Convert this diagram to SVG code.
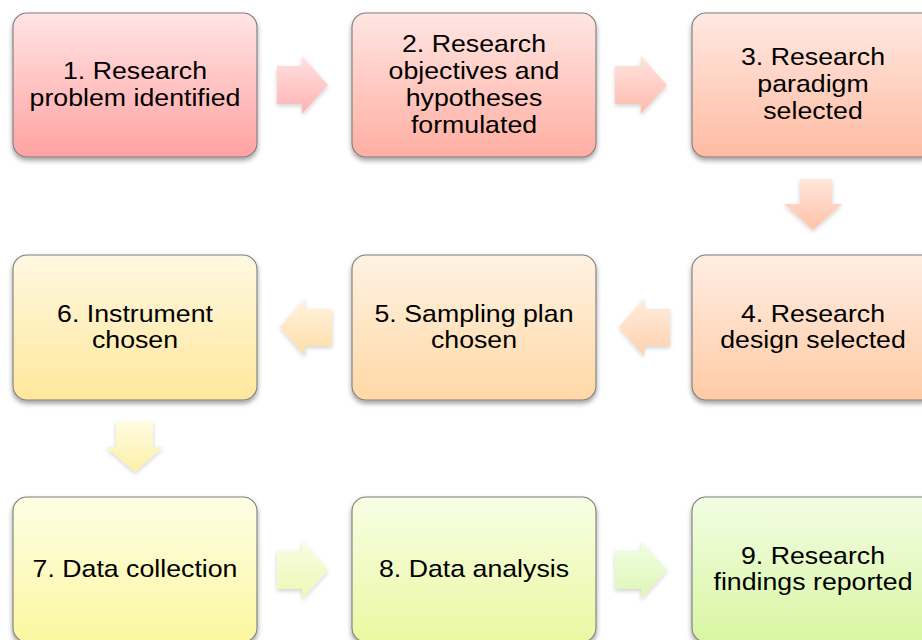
<svg xmlns="http://www.w3.org/2000/svg" width="922" height="640" viewBox="0 0 922 640">
  <defs>
    <style>
      .box { stroke: #7d7d7d; stroke-width: 1.1; filter: url(#boxShadow); }
      .arrow { filter: url(#arrowShadow); }
      .label { font-family: "Liberation Sans", Arial, Helvetica, sans-serif; font-size: 24.4px; fill: #000; text-anchor: middle; }
    </style>
    <filter id="boxShadow" x="-10%" y="-10%" width="120%" height="125%">
      <feDropShadow dx="0" dy="3" stdDeviation="2.4" flood-color="#000" flood-opacity="0.38"/>
    </filter>
    <filter id="arrowShadow" x="-20%" y="-20%" width="140%" height="150%">
      <feDropShadow dx="0" dy="2" stdDeviation="2" flood-color="#000" flood-opacity="0.18"/>
    </filter>
    <!-- box fills: light top to saturated bottom, red through green -->
    <linearGradient id="g1" x1="0" y1="0" x2="0" y2="1"><stop offset="0" stop-color="#FFE4E4"/><stop offset="1" stop-color="#FFA2A2"/></linearGradient>
    <linearGradient id="g2" x1="0" y1="0" x2="0" y2="1"><stop offset="0" stop-color="#FFE6E2"/><stop offset="1" stop-color="#FFAEA2"/></linearGradient>
    <linearGradient id="g3" x1="0" y1="0" x2="0" y2="1"><stop offset="0" stop-color="#FFE9E2"/><stop offset="1" stop-color="#FFBBA2"/></linearGradient>
    <linearGradient id="g4" x1="0" y1="0" x2="0" y2="1"><stop offset="0" stop-color="#FFEEE3"/><stop offset="1" stop-color="#FFCAA5"/></linearGradient>
    <linearGradient id="g5" x1="0" y1="0" x2="0" y2="1"><stop offset="0" stop-color="#FFF2E3"/><stop offset="1" stop-color="#FFD8A5"/></linearGradient>
    <linearGradient id="g6" x1="0" y1="0" x2="0" y2="1"><stop offset="0" stop-color="#FFF8E2"/><stop offset="1" stop-color="#FFE79C"/></linearGradient>
    <linearGradient id="g7" x1="0" y1="0" x2="0" y2="1"><stop offset="0" stop-color="#FEFEE4"/><stop offset="1" stop-color="#FBF7A0"/></linearGradient>
    <linearGradient id="g8" x1="0" y1="0" x2="0" y2="1"><stop offset="0" stop-color="#F8FEE4"/><stop offset="1" stop-color="#EAF8A2"/></linearGradient>
    <linearGradient id="g9" x1="0" y1="0" x2="0" y2="1"><stop offset="0" stop-color="#F2FDE4"/><stop offset="1" stop-color="#D8F6A2"/></linearGradient>
    <!-- connector arrow fills -->
    <linearGradient id="a1" x1="0" y1="0" x2="0" y2="1"><stop offset="0" stop-color="#FFE2E2"/><stop offset="1" stop-color="#FFB2B2"/></linearGradient>
    <linearGradient id="a2" x1="0" y1="0" x2="0" y2="1"><stop offset="0" stop-color="#FFE4DF"/><stop offset="1" stop-color="#FFBAAD"/></linearGradient>
    <linearGradient id="a3" x1="0" y1="0" x2="0" y2="1"><stop offset="0" stop-color="#FFE6DB"/><stop offset="1" stop-color="#FFC2A8"/></linearGradient>
    <linearGradient id="a4" x1="0" y1="0" x2="0" y2="1"><stop offset="0" stop-color="#FFEEE0"/><stop offset="1" stop-color="#FFD0AB"/></linearGradient>
    <linearGradient id="a5" x1="0" y1="0" x2="0" y2="1"><stop offset="0" stop-color="#FFF4DF"/><stop offset="1" stop-color="#FFDDA8"/></linearGradient>
    <linearGradient id="a6" x1="0" y1="0" x2="0" y2="1"><stop offset="0" stop-color="#FFFCE2"/><stop offset="1" stop-color="#FCF0A6"/></linearGradient>
    <linearGradient id="a7" x1="0" y1="0" x2="0" y2="1"><stop offset="0" stop-color="#F8FEE2"/><stop offset="1" stop-color="#ECF8B4"/></linearGradient>
    <linearGradient id="a8" x1="0" y1="0" x2="0" y2="1"><stop offset="0" stop-color="#F2FDE3"/><stop offset="1" stop-color="#DCF7B6"/></linearGradient>
  </defs>

  <rect width="922" height="640" fill="#FFFFFF"/>

  <!-- connectors: block arrows between consecutive steps -->
  <g id="connectors">
    <polygon id="arrow-1-2" class="arrow" fill="url(#a1)" points="277,66 302,66 302,56 328,85 302,114 302,104 277,104"/>
    <polygon id="arrow-2-3" class="arrow" fill="url(#a2)" points="615,66 641,66 641,56 667,85 641,114 641,104 615,104"/>
    <polygon id="arrow-3-4" class="arrow" fill="url(#a3)" points="800,179 832,179 832,204 842,204 813,230 784,204 800,204"/>
    <polygon id="arrow-4-5" class="arrow" fill="url(#a4)" points="670,309 644,309 644,298 619,327 644,356 644,346 670,346"/>
    <polygon id="arrow-5-6" class="arrow" fill="url(#a5)" points="332,309 305,309 305,298 280,327 305,356 305,346 332,346"/>
    <polygon id="arrow-6-7" class="arrow" fill="url(#a6)" points="116,421 153,421 153,447 163,447 135,472 106,447 116,447"/>
    <polygon id="arrow-7-8" class="arrow" fill="url(#a7)" points="277,551 302,551 302,541 328,570 302,599 302,589 277,589"/>
    <polygon id="arrow-8-9" class="arrow" fill="url(#a8)" points="615,551 641,551 641,541 667,570 641,599 641,589 615,589"/>
  </g>

  <!-- step 1 -->
  <g id="step1">
    <rect class="box" x="13" y="13" width="244" height="144" rx="14" fill="url(#g1)"/>
    <g transform="translate(135,0) scale(1.095,1)">
      <text class="label" x="0" y="79">1. Research</text>
      <text class="label" x="0" y="106">problem identified</text>
    </g>
  </g>

  <!-- step 2 -->
  <g id="step2">
    <rect class="box" x="352" y="13" width="244" height="144" rx="14" fill="url(#g2)"/>
    <g transform="translate(474,0) scale(1.095,1)">
      <text class="label" x="0" y="52">2. Research</text>
      <text class="label" x="0" y="79">objectives and</text>
      <text class="label" x="0" y="106">hypotheses</text>
      <text class="label" x="0" y="133">formulated</text>
    </g>
  </g>

  <!-- step 3 -->
  <g id="step3">
    <rect class="box" x="692" y="13" width="244" height="144" rx="14" fill="url(#g3)"/>
    <g transform="translate(813,0) scale(1.095,1)">
      <text class="label" x="0" y="65.5">3. Research</text>
      <text class="label" x="0" y="92.5">paradigm</text>
      <text class="label" x="0" y="119.5">selected</text>
    </g>
  </g>

  <!-- step 4 -->
  <g id="step4">
    <rect class="box" x="692" y="255" width="244" height="145" rx="14" fill="url(#g4)"/>
    <g transform="translate(813,0) scale(1.095,1)">
      <text class="label" x="0" y="322">4. Research</text>
      <text class="label" x="0" y="348.5">design selected</text>
    </g>
  </g>

  <!-- step 5 -->
  <g id="step5">
    <rect class="box" x="352" y="255" width="244" height="145" rx="14" fill="url(#g5)"/>
    <g transform="translate(474,0) scale(1.095,1)">
      <text class="label" x="0" y="322">5. Sampling plan</text>
      <text class="label" x="0" y="348.5">chosen</text>
    </g>
  </g>

  <!-- step 6 -->
  <g id="step6">
    <rect class="box" x="13" y="255" width="244" height="145" rx="14" fill="url(#g6)"/>
    <g transform="translate(135,0) scale(1.095,1)">
      <text class="label" x="0" y="322">6. Instrument</text>
      <text class="label" x="0" y="348.5">chosen</text>
    </g>
  </g>

  <!-- step 7 -->
  <g id="step7">
    <rect class="box" x="13" y="497" width="244" height="145" rx="14" fill="url(#g7)"/>
    <g transform="translate(135,0) scale(1.095,1)">
      <text class="label" x="0" y="577">7. Data collection</text>
    </g>
  </g>

  <!-- step 8 -->
  <g id="step8">
    <rect class="box" x="352" y="497" width="244" height="145" rx="14" fill="url(#g8)"/>
    <g transform="translate(474,0) scale(1.095,1)">
      <text class="label" x="0" y="577">8. Data analysis</text>
    </g>
  </g>

  <!-- step 9 -->
  <g id="step9">
    <rect class="box" x="692" y="497" width="244" height="145" rx="14" fill="url(#g9)"/>
    <g transform="translate(813,0) scale(1.095,1)">
      <text class="label" x="0" y="564">9. Research</text>
      <text class="label" x="0" y="590.5">findings reported</text>
    </g>
  </g>
</svg>
